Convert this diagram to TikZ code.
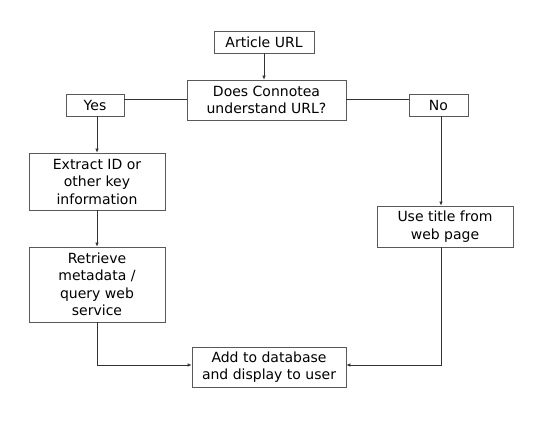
\documentclass[tikz,border=0pt]{standalone}
\usepackage{fontspec}
\setmainfont{DejaVu Sans}
\usetikzlibrary{arrows.meta,calc}
\begin{document}
\begin{tikzpicture}[x=1pt,y=-1pt,
  box/.style={draw=black!65,line width=0.8pt,fill=white,align=center,inner sep=0pt,
    font=\fontsize{14}{17.5}\selectfont},
  conn/.style={draw=black!80,line width=0.6pt},
  arr/.style={conn,-{Latex[length=4pt,width=3.5pt]}}]
\useasboundingbox[fill=white] (0,0) rectangle (544,424);
\node[box,minimum width=100pt,minimum height=22pt] (url) at (264,42) {Article URL};
\node[box,minimum width=159pt,minimum height=40pt] (q) at (266.5,100) {Does Connotea\\understand URL?};
\node[box,minimum width=58pt,minimum height=22pt] (yes) at (95,105) {Yes};
\node[box,minimum width=59pt,minimum height=22pt] (no) at (438.5,105) {No};
\node[box,minimum width=136pt,minimum height=57pt] (ext) at (97,181.5) {Extract ID or\\other key\\information};
\node[box,minimum width=136pt,minimum height=75pt] (ret) at (97,284.5) {Retrieve\\metadata /\\query web\\service};
\node[box,minimum width=136pt,minimum height=41pt] (use) at (445,226.5) {Use title from\\web page};
\node[box,minimum width=154pt,minimum height=40pt] (add) at (269,367) {Add to database\\and display to user};
\draw[arr] (url.south) -- (url.south |- q.north);
\draw[conn] ([yshift=1pt]q.west) -- ([yshift=1pt]q.west -| yes.east);
\draw[conn] ([yshift=1pt]q.east) -- ([yshift=1pt]q.east -| no.west);
\draw[arr] (yes.south -| ext.north) -- (ext.north);
\draw[arr] ([xshift=2.5pt]no.south) -- ([xshift=2.5pt]no.south |- use.north);
\draw[arr] (ext) -- (ret);
\draw[arr] (ret.south) |- ([yshift=2pt]add.west);
\draw[arr] ([xshift=-4pt]use.south) |- ([yshift=2pt]add.east);
\end{tikzpicture}
\end{document}
